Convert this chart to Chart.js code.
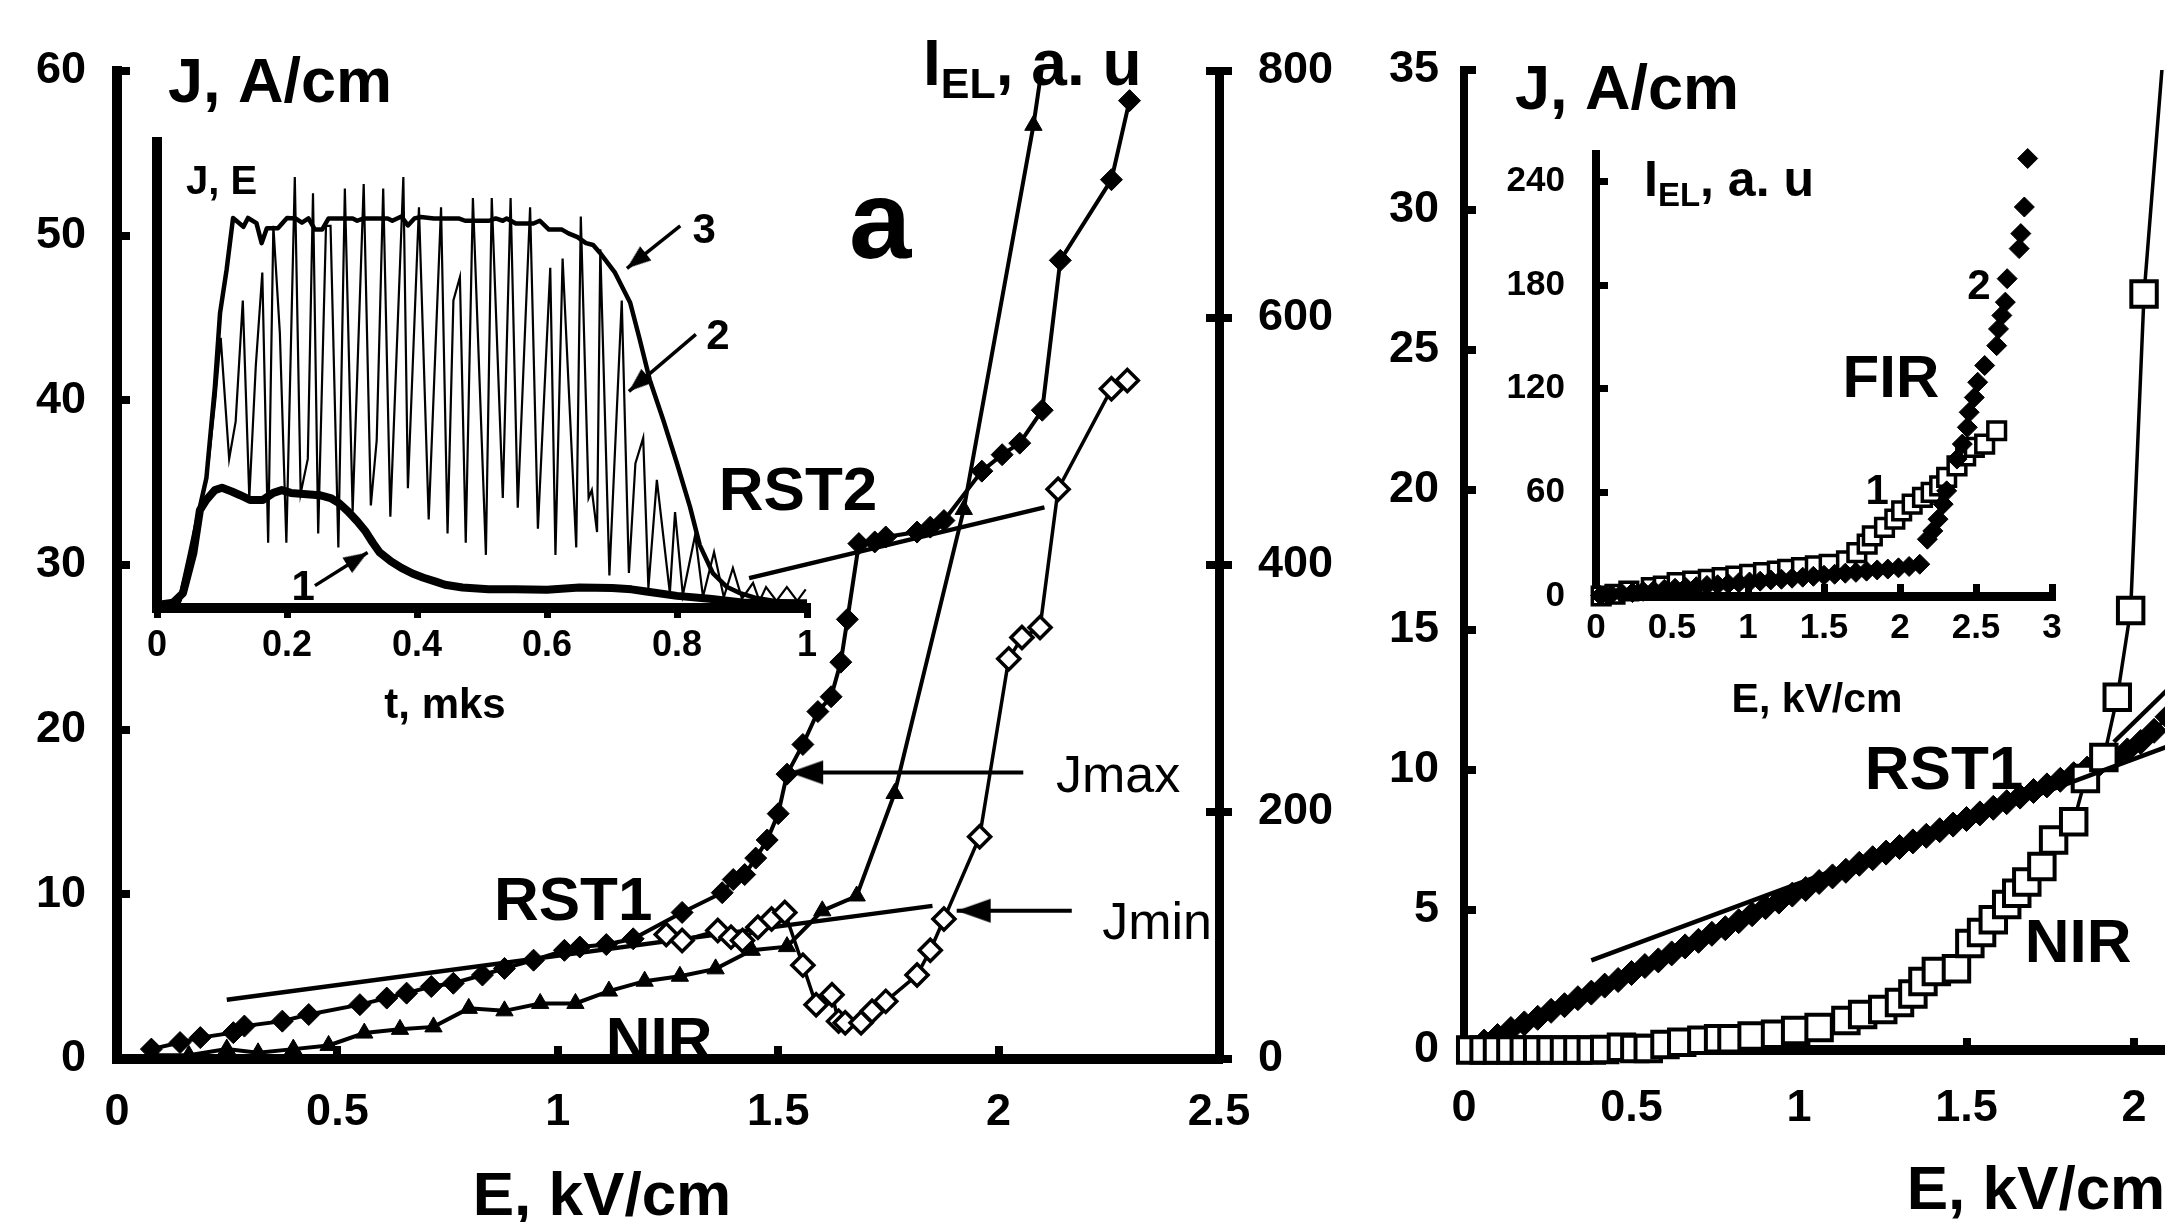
<!DOCTYPE html>
<html>
<head>
<meta charset="utf-8">
<script src="https://cdn.jsdelivr.net/npm/chart.js@4.4.1/dist/chart.umd.min.js"></script>
<style>
html,body{margin:0;padding:0;background:#fff;width:2165px;height:1222px;overflow:hidden;position:relative}
canvas{position:absolute}
</style>
</head>
<body>
<canvas id="cA" width="1360" height="1300" style="left:0px;top:0px"></canvas>
<canvas id="cB" width="800" height="640" style="left:60px;top:100px"></canvas>
<canvas id="cC" width="1400" height="1300" style="left:1340px;top:0px"></canvas>
<canvas id="cD" width="620" height="660" style="left:1480px;top:90px"></canvas>
<script>
// ===================== DATA =====================
// ---- Panel a, main plot: E (kV/cm) vs J (A/cm) and I_EL (a.u.)
const jmaxE = [0.078,0.143,0.189,0.264,0.289,0.375,0.435,0.551,0.612,0.657,0.713,0.763,0.829,0.879,0.945,1.015,1.05,1.11,1.171,1.282,1.373,1.398,1.424,1.449,1.475,1.5,1.52,1.556,1.59,1.62,1.642,1.657,1.683,1.719,1.744,1.815,1.845,1.876,1.962,2.008,2.048,2.099,2.14,2.256,2.297];
const jmaxJ = [0.6,1.0,1.3,1.6,2.0,2.3,2.7,3.3,3.7,4.0,4.4,4.6,5.1,5.5,6.0,6.6,6.8,6.95,7.3,8.9,10.1,10.9,11.2,12.2,13.3,14.9,17.3,19.1,21.1,22.0,24.1,26.7,31.3,31.4,31.7,32.0,32.3,32.7,35.7,36.7,37.4,39.4,48.5,53.4,58.2];
const jminE = [1.246,1.282,1.363,1.393,1.419,1.454,1.485,1.515,1.556,1.586,1.622,1.637,1.652,1.688,1.713,1.744,1.815,1.845,1.876,1.957,2.023,2.053,2.094,2.135,2.256,2.292];
const jminJ = [7.56,7.2,7.8,7.4,7.2,8.0,8.5,8.9,5.7,3.3,3.9,2.3,2.2,2.2,2.9,3.5,5.1,6.6,8.5,13.5,24.3,25.6,26.2,34.6,40.7,41.2];
const nirE = [0.083,0.163,0.249,0.32,0.40,0.48,0.561,0.642,0.718,0.798,0.879,0.96,1.04,1.116,1.197,1.277,1.358,1.44,1.52,1.60,1.678,1.764,1.921,2.079,2.13];
const nirI = [3,3,8,5,8,11,21,24,26,41,39,45,45,55,63,67,73,88,91,120,132,215,445,756,880];
const rst1aE = [0.249, 1.85];
const rst1aJ = [3.6, 9.3];
const rst2aE = [1.434, 2.104];
const rst2aJ = [29.2, 33.5];
const jmaxArrowE = [2.056, 1.525];
const jmaxArrowJ = [17.4, 17.4];
const jminArrowE = [2.166, 1.905];
const jminArrowJ = [9.0, 9.0];
const aXTicks = [0, 0.5, 1, 1.5, 2, 2.5];
const aJTicks = [0, 10, 20, 30, 40, 50, 60];
const aITicks = [0, 200, 400, 600, 800];

// ---- Panel a, inset: t (mks) vs J, E (relative units 0..100)
const c1T = [0,0.02,0.04,0.056,0.066,0.076,0.089,0.1,0.115,0.128,0.143,0.163,0.179,0.192,0.206,0.23,0.25,0.267,0.28,0.294,0.308,0.321,0.332,0.342,0.36,0.376,0.393,0.41,0.43,0.443,0.47,0.51,0.55,0.6,0.65,0.7,0.73,0.75,0.8,0.85,0.9,0.95,1.0];
const c1V = [0.5,0.5,3.2,11.8,21,23.2,25.3,25.8,25.0,24.2,23.2,23.2,24.7,25.3,24.7,24.4,24.2,23.6,22.5,20.7,18.6,16.4,14.0,12.0,10.0,8.6,7.4,6.5,5.6,5.0,4.4,4.0,4.0,3.9,4.4,4.3,4.0,3.6,2.6,2.0,1.2,1.0,1.0];
const c3T = [0,0.035,0.051,0.066,0.076,0.089,0.097,0.107,0.117,0.133,0.14,0.153,0.161,0.169,0.186,0.2,0.213,0.223,0.233,0.243,0.254,0.264,0.301,0.308,0.318,0.355,0.362,0.376,0.386,0.396,0.406,0.426,0.464,0.474,0.511,0.521,0.532,0.538,0.552,0.579,0.589,0.603,0.623,0.633,0.647,0.66,0.671,0.681,0.704,0.728,0.742,0.758,0.779,0.8,0.82,0.835,0.855,0.877,0.897,0.92,0.95,1.0];
const c3V = [1,1.7,11.8,21.7,27.9,47.4,63.3,72.5,83.7,81.8,83.7,82.6,78.3,81.5,81.5,83.7,83.6,82.7,83.6,81.2,81.2,83.6,83.6,83.1,83.6,83.6,83.1,84.0,82.1,83.6,83.9,83.6,83.6,83.1,83.1,83.6,83.1,83.6,82.5,82.5,83.1,81.2,81.2,80.4,79.6,78.3,77.9,76.3,72.1,65.5,58,49,40.3,31,21.7,13.5,7.5,4.5,3.2,2.2,1.5,1.2];
const c2T = [0,0.035,0.06,0.08,0.09,0.098,0.111,0.121,0.132,0.142,0.152,0.162,0.171,0.179,0.189,0.199,0.212,0.221,0.232,0.24,0.248,0.26,0.267,0.279,0.289,0.301,0.318,0.329,0.338,0.348,0.359,0.379,0.386,0.403,0.418,0.437,0.447,0.456,0.466,0.475,0.486,0.506,0.515,0.532,0.544,0.555,0.574,0.586,0.605,0.613,0.624,0.645,0.652,0.664,0.669,0.677,0.682,0.696,0.715,0.726,0.736,0.748,0.756,0.769,0.789,0.797,0.809,0.828,0.84,0.857,0.872,0.886,0.9,0.917,0.927,0.937,0.953,0.969,0.985,0.998];
const c2V = [1,1,15,32,45,58,32,40,66,23.6,52,72,14,82,59,14,92.5,24.6,32,89,16,82,82,13,90,20.7,91,22,36,90,19.6,92.5,25.7,86,19,86,16,66,71,14,88,11.4,88,23.6,88,21.5,86,17,73,11.4,75,13,84,23.6,25.3,16.3,77,7,66,7.5,31,36.5,4.3,27.5,3.2,20.6,2.8,15.7,2.4,12,2.3,8.6,2,5.4,1.5,4.5,1.5,4.5,1.5,4];
const arrow1T = [0.243, 0.324], arrow1V = [4.8, 11.9];
const arrow2T = [0.829, 0.726], arrow2V = [58.7, 46.5];
const arrow3T = [0.805, 0.723], arrow3V = [82, 72.9];
const insetATicks = [0, 0.2, 0.4, 0.6, 0.8, 1];

// ---- Panel b, main plot
const bRstE = [0.06,0.10,0.14,0.18,0.22,0.26,0.30,0.34,0.38,0.42,0.46,0.50,0.54,0.58,0.62,0.66,0.70,0.74,0.78,0.82,0.86,0.90,0.94,0.98,1.02,1.06,1.10,1.14,1.18,1.22,1.26,1.30,1.34,1.38,1.42,1.46,1.50,1.54,1.58,1.62,1.66,1.70,1.74,1.78,1.82,1.86,1.90,1.94,1.98,2.02,2.06,2.10,2.14];
const bRstJ = [0.3,0.5,0.75,0.95,1.15,1.4,1.6,1.85,2.05,2.3,2.5,2.75,3.0,3.2,3.45,3.7,3.9,4.15,4.35,4.6,4.85,5.1,5.3,5.55,5.75,6.0,6.2,6.4,6.65,6.85,7.05,7.25,7.45,7.65,7.85,8.05,8.25,8.45,8.65,8.85,9.05,9.25,9.45,9.65,9.85,10.05,10.25,10.45,10.7,11.0,11.4,11.9,12.4];
const bNirE = [0.02,0.06,0.10,0.14,0.18,0.22,0.26,0.30,0.34,0.38,0.42,0.47,0.51,0.55,0.60,0.65,0.71,0.76,0.80,0.86,0.93,0.99,1.06,1.14,1.19,1.25,1.30,1.34,1.37,1.41,1.47,1.51,1.545,1.58,1.62,1.65,1.68,1.725,1.76,1.82,1.855,1.91,1.95,1.99,2.03,2.11];
const bNirJ = [0,0,0,0,0,0,0,0,0,0,0.02,0.1,0.05,0.05,0.2,0.28,0.35,0.4,0.4,0.5,0.56,0.7,0.8,1.05,1.27,1.45,1.7,2.0,2.45,2.8,2.9,3.8,4.2,4.65,5.2,5.6,6.0,6.55,7.5,8.15,9.7,10.45,12.6,15.7,27.0,39];
const rst1bE = [0.38, 2.6], rst1bJ = [3.2, 13.06];
const rst2bE = [1.94, 2.6], rst2bJ = [11.0, 18.7];
const bXTicks = [0, 0.5, 1, 1.5, 2, 2.5, 3, 3.5];
const bJTicks = [0, 5, 10, 15, 20, 25, 30, 35];

// ---- Panel b, inset: FIR
const fir2E = [0.03,0.1,0.17,0.24,0.31,0.38,0.45,0.52,0.59,0.66,0.73,0.80,0.87,0.94,1.01,1.08,1.15,1.22,1.29,1.36,1.43,1.50,1.57,1.64,1.71,1.78,1.85,1.92,1.99,2.06,2.13,2.18,2.216,2.25,2.284,2.307,2.375,2.41,2.443,2.455,2.489,2.511,2.557,2.636,2.648,2.67,2.693,2.705,2.784,2.795,2.818,2.84];
const fir2V = [0.3,0.9,1.5,2.0,2.7,3.2,3.9,4.5,5.0,5.4,6.1,6.5,7.1,7.7,8.1,8.6,9.3,9.7,10.3,10.9,11.4,12.0,12.6,13.2,13.7,14.4,15.1,15.6,16.3,17.1,18.4,32.9,37.7,44.5,53.2,60.9,79.3,88,97.7,106.4,115,123.8,133.5,145,154.7,162.5,170.2,183.8,201.2,209.9,225.3,253.4];
const fir1E = [0.034,0.125,0.216,0.364,0.443,0.534,0.636,0.739,0.83,0.92,1.011,1.102,1.193,1.261,1.352,1.443,1.534,1.648,1.716,1.784,1.818,1.898,1.966,2.011,2.08,2.148,2.205,2.261,2.307,2.375,2.432,2.489,2.557,2.636];
const fir1V = [0,1.0,2.9,4.8,5.8,7.7,8.7,9.7,10.6,11.6,12.6,13.5,14.5,15.5,16.4,17.4,18.4,20.3,25.1,30,34.8,39.7,44.5,49.3,53.2,57.1,60,63.8,68.7,75.4,81.2,86.1,88,95.7];
const insetBXTicks = [0, 0.5, 1, 1.5, 2, 2.5, 3];
const insetBYTicks = [0, 60, 120, 180, 240];

// ===================== RENDERING =====================
const FONT = "'Liberation Sans', Arial, Helvetica, sans-serif";
Chart.defaults.font.family = FONT;
Chart.defaults.color = '#000';

const pts = (xs, ys) => xs.map((x, i) => ({x: x, y: ys[i]}));
const fmt = v => String(Math.round(v * 100) / 100);
const CLIP_TOP = {left: false, top: 0, right: false, bottom: false};

function arrowHead(len, half) {
  const c = document.createElement('canvas');
  c.width = c.height = 2 * len + 2;
  const g = c.getContext('2d');
  const m = len + 1;
  g.fillStyle = '#000';
  g.beginPath();
  g.moveTo(m, m);
  g.lineTo(m - len, m - half);
  g.lineTo(m - len, m + half);
  g.closePath();
  g.fill();
  return c;
}
const HEAD_BIG = arrowHead(34, 12);
const HEAD_SMALL = arrowHead(24, 9);

function rot(xId, yId) {
  return c => {
    const d = c.dataset.data, n = d.length;
    const sx = c.chart.scales[xId], sy = c.chart.scales[yId];
    const dx = sx.getPixelForValue(d[n - 1].x) - sx.getPixelForValue(d[n - 2].x);
    const dy = sy.getPixelForValue(d[n - 1].y) - sy.getPixelForValue(d[n - 2].y);
    return Math.atan2(dy, dx) * 180 / Math.PI;
  };
}

// Text labels drawn on the chart canvas (positions: data coords via scales, or canvas px)
function textLayer(items) {
  return {
    id: 'textLayer',
    afterDatasetsDraw(chart) {
      const ctx = chart.ctx;
      for (const it of items) {
        let x, y;
        if (it.at) {
          x = chart.scales[it.xAxis || 'x'].getPixelForValue(it.at[0]);
          y = chart.scales[it.yAxis || 'y'].getPixelForValue(it.at[1]);
        } else { x = it.px[0]; y = it.px[1]; }
        const segs = it.segs || [{t: it.text, size: it.size, weight: it.weight}];
        ctx.save();
        ctx.fillStyle = '#000';
        ctx.textBaseline = 'alphabetic';
        ctx.textAlign = 'left';
        let total = 0;
        const ws = segs.map(s => {
          ctx.font = (s.weight || 'bold') + ' ' + s.size + 'px ' + FONT;
          const w = ctx.measureText(s.t).width; total += w; return w;
        });
        let sx = it.align === 'left' ? x : (it.align === 'right' ? x - total : x - total / 2);
        const base = y + 0.358 * segs[0].size;
        segs.forEach((s, i) => {
          ctx.font = (s.weight || 'bold') + ' ' + s.size + 'px ' + FONT;
          ctx.fillText(s.t, sx, base + (s.dy || 0));
          sx += ws[i];
        });
        ctx.restore();
      }
    }
  };
}

function axis(o) {
  return {
    type: 'linear', position: o.pos, min: o.min, max: o.max, display: true, weight: o.weight || 0,
    afterBuildTicks: o.ticks ? (s => { s.ticks = o.ticks.map(v => ({value: v})); }) : undefined,
    ticks: {
      display: o.labels !== false, stepSize: o.step, padding: o.pad || 0,
      font: {size: o.fs || 12, weight: 'bold', family: FONT, lineHeight: 1.2}, color: '#000',
      maxRotation: 0, minRotation: 0, autoSkip: false, includeBounds: false,
      callback: v => fmt(v)
    },
    grid: {
      display: true, drawOnChartArea: false, drawTicks: !!o.tl, tickLength: o.tl || 0,
      tickWidth: o.tw || 8, tickColor: '#000', color: '#000', lineWidth: o.tw || 8
    },
    border: {display: o.bw > 0, width: o.bw || 0, color: '#000'},
    afterFit: s => { if (o.w !== undefined) s.width = o.w; if (o.h !== undefined) s.height = o.h; }
  };
}

const common = {responsive: false, animation: false, devicePixelRatio: 1, events: []};
const noPlug = {legend: {display: false}, tooltip: {enabled: false}};

// ---------- Chart A: panel a main ----------
new Chart(document.getElementById('cA'), {
  type: 'scatter',
  data: {datasets: [
    {label: 'Jmax arrow', data: pts(jmaxArrowE, jmaxArrowJ), showLine: true, borderColor: '#000', borderWidth: 4,
     pointStyle: HEAD_BIG, pointRadius: [0, 1], pointRotation: rot('x', 'y'), clip: false},
    {label: 'Jmin arrow', data: pts(jminArrowE, jminArrowJ), showLine: true, borderColor: '#000', borderWidth: 4,
     pointStyle: HEAD_BIG, pointRadius: [0, 1], pointRotation: rot('x', 'y'), clip: false},
    {label: 'Jmax', data: pts(jmaxE, jmaxJ), showLine: true, borderColor: '#000', borderWidth: 4,
     pointStyle: 'rectRot', pointRadius: 11, pointBackgroundColor: '#000', pointBorderColor: '#000', pointBorderWidth: 1, clip: CLIP_TOP},
    {label: 'Jmin', data: pts(jminE, jminJ), showLine: true, borderColor: '#000', borderWidth: 3.5,
     pointStyle: 'rectRot', pointRadius: 11, pointBackgroundColor: '#fff', pointBorderColor: '#000', pointBorderWidth: 3.5, clip: CLIP_TOP},
    {label: 'NIR', data: pts(nirE, nirI), yAxisID: 'yR', showLine: true, borderColor: '#000', borderWidth: 4,
     pointStyle: 'triangle', pointRadius: 10, pointBackgroundColor: '#000', pointBorderColor: '#000', pointBorderWidth: 1, clip: CLIP_TOP},
    {label: 'RST1 fit', data: pts(rst1aE, rst1aJ), showLine: true, borderColor: '#000', borderWidth: 4.5, pointRadius: 0},
    {label: 'RST2 fit', data: pts(rst2aE, rst2aJ), showLine: true, borderColor: '#000', borderWidth: 4.5, pointRadius: 0}
  ]},
  options: Object.assign({}, common, {
    layout: {padding: {left: 0, top: 69, right: 0, bottom: 0}},
    plugins: noPlug,
    scales: {
      x: axis({pos: 'bottom', min: 0, max: 2.5, step: 0.5, ticks: aXTicks, fs: 45, pad: 40, tl: -13, tw: 8, bw: 10, h: 241}),
      y: axis({pos: 'left', min: 0, max: 60, step: 10, ticks: aJTicks, fs: 45, pad: 44, tl: -13, tw: 8, bw: 10, w: 117}),
      yR2: axis({pos: 'right', weight: -1, min: 0, max: 800, step: 200, ticks: aITicks, labels: false, tl: -13, tw: 8, bw: 0, w: 0}),
      yR: axis({pos: 'right', min: 0, max: 800, step: 200, ticks: aITicks, fs: 45, pad: 26, tl: 13, tw: 8, bw: 9, w: 141})
    }
  }),
  plugins: [textLayer([
    {at: [1.545, 34.7], text: 'RST2', size: 62},
    {at: [1.035, 9.76], text: 'RST1', size: 62},
    {at: [1.23, 1.27], text: 'NIR', size: 62},
    {at: [1.731, 51.1], text: 'a', size: 112},
    {at: [2.13, 17.35], text: 'Jmax', size: 52, weight: 'normal', align: 'left'},
    {at: [2.235, 8.4], text: 'Jmin', size: 52, weight: 'normal', align: 'left'},
    {px: [168, 79], text: 'J, A/cm', size: 63, align: 'left'},
    {px: [923, 62], segs: [{t: 'I', size: 64}, {t: 'EL', size: 43, dy: 13}, {t: ', a. u', size: 64}], align: 'left'},
    {px: [602, 1193], text: 'E, kV/cm', size: 62}
  ])]
});

// ---------- Chart B: panel a inset ----------
new Chart(document.getElementById('cB'), {
  type: 'scatter',
  data: {datasets: [
    {label: 'arrow 1', data: pts(arrow1T, arrow1V), showLine: true, borderColor: '#000', borderWidth: 3.5,
     pointStyle: HEAD_SMALL, pointRadius: [0, 1], pointRotation: rot('x', 'y'), clip: false},
    {label: 'arrow 2', data: pts(arrow2T, arrow2V), showLine: true, borderColor: '#000', borderWidth: 3.5,
     pointStyle: HEAD_SMALL, pointRadius: [0, 1], pointRotation: rot('x', 'y'), clip: false},
    {label: 'arrow 3', data: pts(arrow3T, arrow3V), showLine: true, borderColor: '#000', borderWidth: 3.5,
     pointStyle: HEAD_SMALL, pointRadius: [0, 1], pointRotation: rot('x', 'y'), clip: false},
    {label: '1', data: pts(c1T, c1V), showLine: true, borderColor: '#000', borderWidth: 8, pointRadius: 0, clip: false, borderJoinStyle: 'round'},
    {label: '3', data: pts(c3T, c3V), showLine: true, borderColor: '#000', borderWidth: 4.5, pointRadius: 0, clip: false, borderJoinStyle: 'round'},
    {label: '2', data: pts(c2T, c2V), showLine: true, borderColor: '#000', borderWidth: 2.2, pointRadius: 0, clip: false}
  ]},
  options: Object.assign({}, common, {
    layout: {padding: {left: 0, top: 42, right: 53, bottom: 0}},
    plugins: noPlug,
    scales: {
      x: axis({pos: 'bottom', min: 0, max: 1, step: 0.2, ticks: insetATicks, fs: 36, pad: 6, tl: 10, tw: 7, bw: 10, h: 132}),
      y: axis({pos: 'left', min: 0, max: 100, labels: false, tl: 0, bw: 10, w: 97})
    }
  }),
  plugins: [textLayer([
    {px: [126, 80], text: 'J, E', size: 40, align: 'left'},
    {px: [385, 603], text: 't, mks', size: 42},
    {at: [0.225, 5], text: '1', size: 42},
    {at: [0.863, 58.7], text: '2', size: 42},
    {at: [0.842, 81.5], text: '3', size: 42}
  ])]
});

// ---------- Chart C: panel b main ----------
new Chart(document.getElementById('cC'), {
  type: 'scatter',
  data: {datasets: [
    {label: 'RST2 fit', data: pts(rst2bE, rst2bJ), showLine: true, borderColor: '#000', borderWidth: 4.5, pointRadius: 0},
    {label: 'RST1 fit', data: pts(rst1bE, rst1bJ), showLine: true, borderColor: '#000', borderWidth: 4.5, pointRadius: 0},
    {label: 'NIR', data: pts(bNirE, bNirJ), showLine: true, borderColor: '#000', borderWidth: 3.5,
     pointStyle: 'rect', pointRadius: 18, pointBackgroundColor: '#fff', pointBorderColor: '#000', pointBorderWidth: 4, clip: CLIP_TOP},
    {label: 'RST1', data: pts(bRstE, bRstJ), showLine: true, borderColor: '#000', borderWidth: 4,
     pointStyle: 'rectRot', pointRadius: 12.5, pointBackgroundColor: '#000', pointBorderColor: '#000', pointBorderWidth: 1, clip: CLIP_TOP}
  ]},
  options: Object.assign({}, common, {
    layout: {padding: {left: 0, top: 70, right: 103.5, bottom: 0}},
    plugins: noPlug,
    scales: {
      x: axis({pos: 'bottom', min: 0, max: 3.5, step: 0.5, ticks: bXTicks, fs: 45, pad: 44, tl: -12, tw: 8, bw: 10, h: 250}),
      y: axis({pos: 'left', min: 0, max: 35, step: 5, ticks: bJTicks, fs: 45, pad: 37, tl: -12, tw: 8, bw: 8, w: 124})
    }
  }),
  plugins: [textLayer([
    {px: [175, 86], text: 'J, A/cm', size: 63, align: 'left'},
    {at: [1.433, 10.1], text: 'RST1', size: 62},
    {at: [1.833, 3.93], text: 'NIR', size: 62},
    {px: [696, 1187], text: 'E, kV/cm', size: 62}
  ])]
});

// ---------- Chart D: panel b inset (FIR) ----------
new Chart(document.getElementById('cD'), {
  type: 'scatter',
  data: {datasets: [
    {label: '2', data: pts(fir2E, fir2V), showLine: false,
     pointStyle: 'rectRot', pointRadius: 10, pointBackgroundColor: '#000', pointBorderColor: '#000', pointBorderWidth: 1, clip: false},
    {label: '1', data: pts(fir1E, fir1V), showLine: false,
     pointStyle: 'rect', pointRadius: 12.5, pointBackgroundColor: '#fff', pointBorderColor: '#000', pointBorderWidth: 3.5, clip: false}
  ]},
  options: Object.assign({}, common, {
    layout: {padding: {left: 0, top: 51, right: 48, bottom: 0}},
    plugins: noPlug,
    scales: {
      x: axis({pos: 'bottom', min: 0, max: 3, step: 0.5, ticks: insetBXTicks, fs: 35, pad: 23, tl: -12, tw: 7, bw: 9, h: 154}),
      y: axis({pos: 'left', min: 0, max: 256, step: 60, ticks: insetBYTicks, fs: 35, pad: 43, tl: -12, tw: 7, bw: 8, w: 116})
    }
  }),
  plugins: [textLayer([
    {px: [164, 88], segs: [{t: 'I', size: 50}, {t: 'EL', size: 33, dy: 10}, {t: ', a. u', size: 50}], align: 'left'},
    {at: [1.94, 127.6], text: 'FIR', size: 60},
    {at: [1.85, 61.8], text: '1', size: 42},
    {at: [2.52, 180.9], text: '2', size: 42},
    {px: [337, 607], text: 'E, kV/cm', size: 41}
  ])]
});
</script>
</body>
</html>
